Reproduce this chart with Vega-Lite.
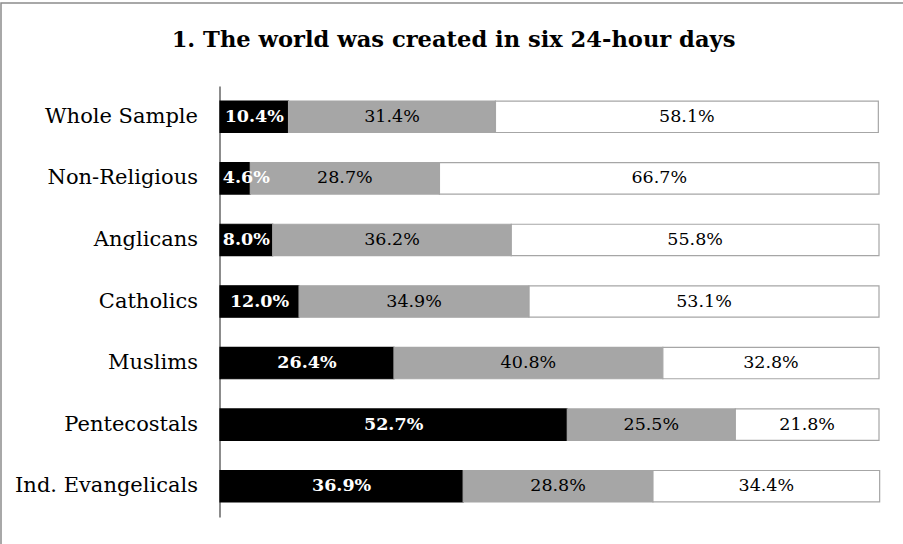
{
  "$schema": "https://vega.github.io/schema/vega-lite/v6.json",
  "width": 905,
  "height": 545,
  "autosize": "none",
  "padding": {"left": 1, "top": 3, "right": 0, "bottom": 0},
  "background": "white",
  "config": {
    "view": {"stroke": "#8c8c8c", "strokeWidth": 1.5},
    "font": "DejaVu Serif"
  },
  "title": {
    "text": "1. The world was created in six 24-hour days",
    "font": "DejaVu Serif",
    "fontSize": 22.6,
    "fontWeight": "bold",
    "color": "#000000",
    "anchor": "middle",
    "frame": "group",
    "offset": -49
  },
  "data": {
    "values": [
      {"group": "Whole Sample", "resp": "Yes", "o": 1, "v": 10.4},
      {"group": "Whole Sample", "resp": "Unsure", "o": 2, "v": 31.4},
      {"group": "Whole Sample", "resp": "No", "o": 3, "v": 58.1},
      {"group": "Non-Religious", "resp": "Yes", "o": 1, "v": 4.6},
      {"group": "Non-Religious", "resp": "Unsure", "o": 2, "v": 28.7},
      {"group": "Non-Religious", "resp": "No", "o": 3, "v": 66.7},
      {"group": "Anglicans", "resp": "Yes", "o": 1, "v": 8.0},
      {"group": "Anglicans", "resp": "Unsure", "o": 2, "v": 36.2},
      {"group": "Anglicans", "resp": "No", "o": 3, "v": 55.8},
      {"group": "Catholics", "resp": "Yes", "o": 1, "v": 12.0},
      {"group": "Catholics", "resp": "Unsure", "o": 2, "v": 34.9},
      {"group": "Catholics", "resp": "No", "o": 3, "v": 53.1},
      {"group": "Muslims", "resp": "Yes", "o": 1, "v": 26.4},
      {"group": "Muslims", "resp": "Unsure", "o": 2, "v": 40.8},
      {"group": "Muslims", "resp": "No", "o": 3, "v": 32.8},
      {"group": "Pentecostals", "resp": "Yes", "o": 1, "v": 52.7},
      {"group": "Pentecostals", "resp": "Unsure", "o": 2, "v": 25.5},
      {"group": "Pentecostals", "resp": "No", "o": 3, "v": 21.8},
      {"group": "Ind. Evangelicals", "resp": "Yes", "o": 1, "v": 36.9},
      {"group": "Ind. Evangelicals", "resp": "Unsure", "o": 2, "v": 28.8},
      {"group": "Ind. Evangelicals", "resp": "No", "o": 3, "v": 34.4}
    ]
  },
  "transform": [
    {"stack": "v", "groupby": ["group"], "sort": [{"field": "o", "order": "ascending"}], "as": ["v0", "v1"]},
    {"calculate": "max((datum.v0 + datum.v1) / 2, 4)", "as": "mid"},
    {"calculate": "format(datum.v, '.1f') + '%'", "as": "label"}
  ],
  "encoding": {
    "y": {
      "field": "group",
      "type": "nominal",
      "sort": null,
      "scale": {"range": [83, 514], "paddingInner": 0.49, "paddingOuter": 0.245},
      "axis": {
        "orient": "left",
        "offset": -218.5,
        "title": null,
        "ticks": false,
        "grid": false,
        "domainColor": "#8c8c8c",
        "domainWidth": 2,
        "labelPadding": 22,
        "labelFont": "DejaVu Serif",
        "labelFontSize": 21,
        "labelColor": "#000000",
        "labelLimit": 400
      }
    }
  },
  "layer": [
    {
      "mark": {"type": "bar", "strokeWidth": 1.2},
      "encoding": {
        "x": {"field": "v0", "type": "quantitative", "scale": {"domain": [0, 100], "range": [219, 878]}, "axis": null},
        "x2": {"field": "v1"},
        "fill": {"field": "resp", "type": "nominal", "scale": {"domain": ["Yes", "Unsure", "No"], "range": ["#000000", "#a6a6a6", "#ffffff"]}, "legend": null},
        "stroke": {"field": "resp", "type": "nominal", "scale": {"domain": ["Yes", "Unsure", "No"], "range": ["#000000", "#a6a6a6", "#a6a6a6"]}, "legend": null}
      }
    },
    {
      "transform": [{"filter": "datum.resp == 'Yes'"}],
      "mark": {"type": "text", "font": "DejaVu Serif", "fontSize": 17.5, "fontWeight": "bold", "color": "#ffffff", "baseline": "middle", "align": "center"},
      "encoding": {
        "x": {"field": "mid", "type": "quantitative"},
        "text": {"field": "label"}
      }
    },
    {
      "transform": [{"filter": "datum.resp != 'Yes'"}],
      "mark": {"type": "text", "font": "DejaVu Serif", "fontSize": 17.5, "color": "#000000", "baseline": "middle", "align": "center"},
      "encoding": {
        "x": {"field": "mid", "type": "quantitative"},
        "text": {"field": "label"}
      }
    }
  ]
}
